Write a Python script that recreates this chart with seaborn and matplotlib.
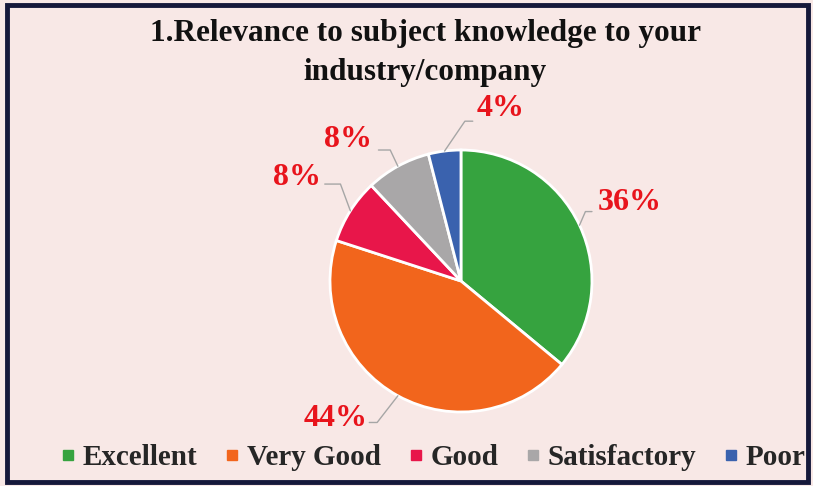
import numpy as np
import matplotlib
matplotlib.use("Agg")
import matplotlib.pyplot as plt
import seaborn as sns
from matplotlib.lines import Line2D
from matplotlib.patches import Rectangle

# datos del grafico
categorias = ["Excellent", "Very Good", "Good", "Satisfactory", "Poor"]
porcentajes = [36, 44, 8, 8, 4]
etiquetas = ["36%", "44%", "8%", "8%", "4%"]
colores = ["#36A33F", "#F2651C", "#E8164A", "#A9A7A8", "#3A62AE"]
titulo = "1.Relevance to subject knowledge to your\nindustry/company"

sns.set_theme(style="white")
plt.rcParams['font.family'] = ['Liberation Serif', 'DejaVu Serif']

fondo = "#F8E8E6"
fig = plt.figure(figsize=(8.13, 4.86), dpi=100, facecolor=fondo)

# marco oscuro alrededor
fig.patches.append(Rectangle((0.008, 0.008), 0.986, 0.982, transform=fig.transFigure,
                             fill=False, edgecolor="#15183A", linewidth=3.5))

ax = fig.add_axes([0.3253, 0.0175, 0.4834, 0.8086])
ax.set_facecolor(fondo)
wedges, _ = ax.pie(porcentajes, colors=colores, startangle=90, counterclock=False,
                   wedgeprops=dict(edgecolor="white", linewidth=2))
ax.set_xlim(-1.5, 1.5)
ax.set_ylim(-1.5, 1.5)
ax.set_aspect("equal")
ax.axis("off")

# posicion de etiquetas (en radios) y linea guia: inicio, codo, luego al borde
pos_texto = [(1.29, 0.60), (-0.96, -1.05), (-1.25, 0.79), (-0.86, 1.08), (0.30, 1.32)]
pos_linea = [(1.00, 0.53), (-0.70, -1.08), (-1.04, 0.74), (-0.63, 1.00), (0.09, 1.22)]
codo = [(0.95, 0.53), (-0.64, -1.08), (-0.92, 0.74), (-0.54, 1.00), (0.03, 1.22)]

for w, lab, pt, pl, pc in zip(wedges, etiquetas, pos_texto, pos_linea, codo):
    ang = np.deg2rad((w.theta1 + w.theta2) / 2)
    xa, ya = np.cos(ang), np.sin(ang)
    ax.plot([pl[0], pc[0], xa], [pl[1], pc[1], ya], color="#A6A6A6", linewidth=1,
            clip_on=False)
    ax.text(pt[0], pt[1], lab, color="#E8141C", fontsize=23, fontweight="bold",
            ha="center", va="center", clip_on=False)

fig.text(0.523, 0.891, titulo, ha="center", va="center", fontsize=22.5,
         fontweight="bold", color="#111111", linespacing=1.42)

handles = [Line2D([0], [0], marker="s", linestyle="none", markersize=6.5,
                  markerfacecolor=c, markeredgecolor=c) for c in colores]
fig.legend(handles, categorias, loc="center", bbox_to_anchor=(0.533, 0.058), ncol=5,
           frameon=False, handlelength=0.5, handletextpad=0.25, columnspacing=0.95,
           prop=dict(family="Liberation Serif", weight="bold", size=21))

fig.savefig("out.png", dpi=100, facecolor=fondo)
